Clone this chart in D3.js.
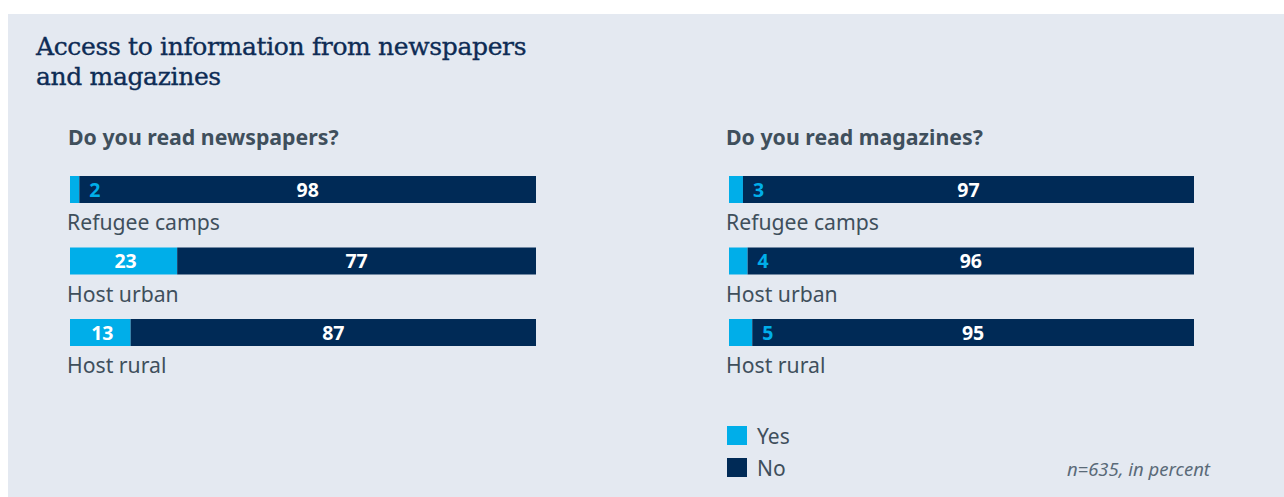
<!DOCTYPE html>
<html>
<head>
<meta charset="utf-8">
<script src="https://cdn.jsdelivr.net/npm/d3@7"></script>
<style>
  html, body { margin: 0; padding: 0; background: #ffffff; }
  svg { display: block; }
</style>
</head>
<body>
<svg id="chart" width="1284" height="497"></svg>
<script>
// Survey data (percent)
const categories = ["Refugee camps", "Host urban", "Host rural"];
const newspapersYes = [2, 23, 13];
const newspapersNo = [98, 77, 87];
const magazinesYes = [3, 4, 5];
const magazinesNo = [97, 96, 95];
const seriesNames = ["Yes", "No"];
const panelTitles = ["Do you read newspapers?", "Do you read magazines?"];

const colors = { Yes: "#00aee9", No: "#002a56" };
const textGray = "#3f4f5c";
const sansFont = "'Noto Sans', 'Open Sans', sans-serif";

const svg = d3.select("#chart");

// background card
svg.append("rect").attr("x", 8).attr("y", 14).attr("width", 1276).attr("height", 483)
  .attr("fill", "#e4e9f1");

// title
const title = svg.append("text")
  .attr("font-family", "'DejaVu Serif', serif")
  .attr("font-size", 25)
  .attr("letter-spacing", -0.35)
  .attr("fill", "#0e2c55")
  .attr("stroke", "#0e2c55")
  .attr("stroke-width", 0.35);
title.append("tspan").attr("x", 36).attr("y", 55).text("Access to information from newspapers");
title.append("tspan").attr("x", 36).attr("y", 85).text("and magazines");

const panels = [
  { x0: 70, x1: 536, titleX: 68, yes: newspapersYes, no: newspapersNo, title: panelTitles[0] },
  { x0: 729, x1: 1194, titleX: 726, yes: magazinesYes, no: magazinesNo, title: panelTitles[1] }
];

const barTop = 176, rowStep = 71.5, barH = 27;

panels.forEach(p => {
  const g = svg.append("g");
  const x = d3.scaleLinear().domain([0, 100]).range([p.x0, p.x1]);
  const y = d3.scaleLinear().domain([0, 1]).range([barTop, barTop + rowStep]);

  g.append("text")
    .attr("x", p.titleX).attr("y", 145)
    .attr("font-family", sansFont).attr("font-weight", 700)
    .attr("font-size", 21.3).attr("fill", textGray)
    .text(p.title);

  const rows = categories.map((c, i) => ({ cat: c, yes: p.yes[i], no: p.no[i], i }));

  const row = g.selectAll("g.row").data(rows).join("g").attr("class", "row");

  row.append("rect")
    .attr("x", d => x(0)).attr("y", d => y(d.i))
    .attr("width", d => x(d.yes) - x(0)).attr("height", barH)
    .attr("fill", colors.Yes);

  row.append("rect")
    .attr("x", d => x(d.yes)).attr("y", d => y(d.i))
    .attr("width", d => x(d.yes + d.no) - x(d.yes)).attr("height", barH)
    .attr("fill", colors.No);

  // "Yes" value: inside the light segment when it fits, otherwise just after it
  const fits = d => x(d.yes) - x(0) > 40;
  row.append("text")
    .attr("x", d => fits(d) ? (x(0) + x(d.yes)) / 2 + 2 : x(d.yes) + 10)
    .attr("y", d => y(d.i) + barH / 2)
    .attr("dy", "0.36em")
    .attr("text-anchor", d => fits(d) ? "middle" : "start")
    .attr("font-family", sansFont).attr("font-weight", 700).attr("font-size", 19.5)
    .attr("fill", d => fits(d) ? "#ffffff" : colors.Yes)
    .text(d => d.yes);

  row.append("text")
    .attr("x", d => (x(d.yes) + x(d.yes + d.no)) / 2)
    .attr("y", d => y(d.i) + barH / 2)
    .attr("dy", "0.36em")
    .attr("text-anchor", "middle")
    .attr("font-family", sansFont).attr("font-weight", 700).attr("font-size", 19.5)
    .attr("fill", "#ffffff")
    .text(d => d.no);

  row.append("text")
    .attr("x", p.x0 - 3).attr("y", d => y(d.i) + barH + 27)
    .attr("font-family", sansFont).attr("font-size", 21.2)
    .attr("fill", textGray)
    .text(d => d.cat);
});

// legend
const legend = svg.append("g").selectAll("g").data(seriesNames).join("g")
  .attr("transform", (d, i) => `translate(727, ${426 + i * 32})`);
legend.append("rect").attr("width", 20).attr("height", 19).attr("fill", d => colors[d]);
legend.append("text").attr("x", 30).attr("y", 18)
  .attr("font-family", sansFont).attr("font-size", 21).attr("fill", textGray)
  .text(d => d);

svg.append("text")
  .attr("x", 1210).attr("y", 476)
  .attr("text-anchor", "end")
  .attr("font-family", sansFont).attr("font-style", "italic")
  .attr("font-size", 18.5).attr("fill", "#5a6a78")
  .text("n=635, in percent");
</script>
</body>
</html>
